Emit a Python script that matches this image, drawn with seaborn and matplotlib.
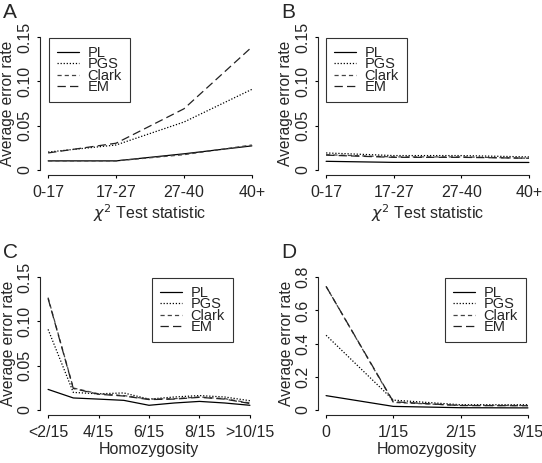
import numpy as np
import pandas as pd
import matplotlib
matplotlib.use("Agg")
import matplotlib.pyplot as plt
import seaborn as sns

# panel A / B : chi-square test statistic groups
chi_groups = ['0-17', '17-27', '27-40', '40+']
a_pl = [0.010, 0.010, 0.018, 0.027]
a_pgs = [0.020, 0.028, 0.054, 0.091]
a_clark = [0.010, 0.010, 0.017, 0.028]
a_em = [0.019, 0.030, 0.069, 0.139]

b_pl = [0.0095, 0.0083, 0.0083, 0.0082]
b_pgs = [0.019, 0.016, 0.016, 0.0145]
b_clark = [0.017, 0.0145, 0.0145, 0.013]
b_em = [0.0165, 0.014, 0.014, 0.013]

# panel C : homozygosity groups
c_groups = ['<2/15', '3/15', '4/15', '5/15', '6/15', '7/15', '8/15', '9/15', '>10/15']
c_ticklabels = ['<2/15', '4/15', '6/15', '8/15', '>10/15']
c_pl = [0.023, 0.0133, 0.012, 0.0106, 0.005, 0.0076, 0.0094, 0.0076, 0.005]
c_pgs = [0.091, 0.0196, 0.018, 0.019, 0.012, 0.0144, 0.016, 0.0144, 0.0102]
c_clark = [0.127, 0.0246, 0.018, 0.016, 0.012, 0.0125, 0.0144, 0.0125, 0.0076]
c_em = [0.126, 0.024, 0.0175, 0.0155, 0.0115, 0.012, 0.014, 0.012, 0.007]

# panel D : low homozygosity
d_groups = ['0', '1/15', '2/15', '3/15']
d_pl = [0.085, 0.02, 0.012, 0.011]
d_pgs = [0.45, 0.058, 0.03, 0.03]
d_clark = [0.745, 0.044, 0.026, 0.025]
d_em = [0.745, 0.048, 0.025, 0.024]

methods = ['PL', 'PGS', 'Clark', 'EM']
colors = {'PL': '#000000', 'PGS': '#000000', 'Clark': '#444444', 'EM': '#222222'}
dashes = {'PL': '', 'PGS': (0.9, 1.3), 'Clark': (3.0, 2.2), 'EM': (6.0, 3.0)}

sns.set_style('ticks')
plt.rcParams['font.family'] = ['Liberation Sans', 'DejaVu Sans']
plt.rcParams['lines.scale_dashes'] = False
plt.rcParams['axes.linewidth'] = 0.8


def make_df(groups, pl, pgs, clark, em):
    rows = []
    for name, vals in zip(methods, [pl, pgs, clark, em]):
        for i, v in enumerate(vals):
            rows.append({'x': i, 'rate': v, 'method': name})
    return pd.DataFrame(rows)


W, H = 542, 463
fig = plt.figure(figsize=(W / 100, H / 100), dpi=100)


def px_axes(left, top, right, bottom):
    return fig.add_axes([left / W, 1 - bottom / H, (right - left) / W, (bottom - top) / H])


def panel(ax, df, n, xticks, xticklabels, yticks, yticklabels, xlabel, letter, leg_loc, leg_anchor):
    sns.lineplot(data=df, x='x', y='rate', hue='method', style='method',
                 hue_order=methods, style_order=methods, palette=colors,
                 dashes=dashes, linewidth=0.9, ax=ax)
    ymax = yticks[-1]
    ax.set_xlim(-0.04 * (n - 1), (n - 1) * 1.04)
    ax.set_ylim(-0.04 * ymax, ymax * 1.04)
    ax.set_xticks(xticks)
    ax.set_xticklabels(xticklabels)
    ax.set_yticks(yticks)
    ax.set_yticklabels(yticklabels, rotation=90, va='center')
    for s in ['top', 'right']:
        ax.spines[s].set_visible(False)
    ax.spines['bottom'].set_bounds(0, n - 1)
    ax.spines['left'].set_bounds(0, ymax)
    ax.tick_params(axis='both', labelsize=11.5, length=2.5, width=0.8, color='black')
    ax.tick_params(axis='x', pad=5)
    ax.tick_params(axis='y', pad=3)
    ax.set_xlabel(xlabel, fontsize=11.5, labelpad=1)
    ax.set_ylabel('Average error rate', fontsize=11.2)
    ax.yaxis.set_label_coords(-0.112, 0.5)
    leg = ax.legend(loc=leg_loc, bbox_to_anchor=leg_anchor, fontsize=10.5,
                    frameon=True, fancybox=False, labelspacing=-0.18,
                    handlelength=1.5, handletextpad=0.6, borderpad=0.55,
                    borderaxespad=0)
    leg.get_frame().set_edgecolor('black')
    leg.get_frame().set_linewidth(0.8)
    for line in leg.get_lines():
        line.set_linewidth(0.9)
    ax.text(-0.17, 1.2, letter, transform=ax.transAxes, fontsize=15, ha='left', va='top')


ax_a = px_axes(40, 32, 260, 175)
panel(ax_a, make_df(chi_groups, a_pl, a_pgs, a_clark, a_em), 4, range(4), chi_groups,
      [0, 0.05, 0.10, 0.15], ['0', '0.05', '0.10', '0.15'],
      r'$\chi^2$ Test statistic', 'A', 'upper left', (0.041, 0.958))

ax_b = px_axes(318, 32, 537, 175)
panel(ax_b, make_df(chi_groups, b_pl, b_pgs, b_clark, b_em), 4, range(4), chi_groups,
      [0, 0.05, 0.10, 0.15], ['0', '0.05', '0.10', '0.15'],
      r'$\chi^2$ Test statistic', 'B', 'upper left', (0.037, 0.958))

ax_c = px_axes(40, 272, 258, 415)
panel(ax_c, make_df(c_groups, c_pl, c_pgs, c_clark, c_em), 9, [0, 2, 4, 6, 8], c_ticklabels,
      [0, 0.05, 0.10, 0.15], ['0', '0.05', '0.10', '0.15'],
      'Homozygosity', 'C', 'upper right', (0.885, 0.958))

ax_d = px_axes(318, 272, 536, 415)
panel(ax_d, make_df(d_groups, d_pl, d_pgs, d_clark, d_em), 4, range(4), d_groups,
      [0, 0.2, 0.4, 0.6, 0.8], ['0', '0.2', '0.4', '0.6', '0.8'],
      'Homozygosity', 'D', 'upper right', (0.954, 0.958))

fig.savefig('out.png', dpi=100)
